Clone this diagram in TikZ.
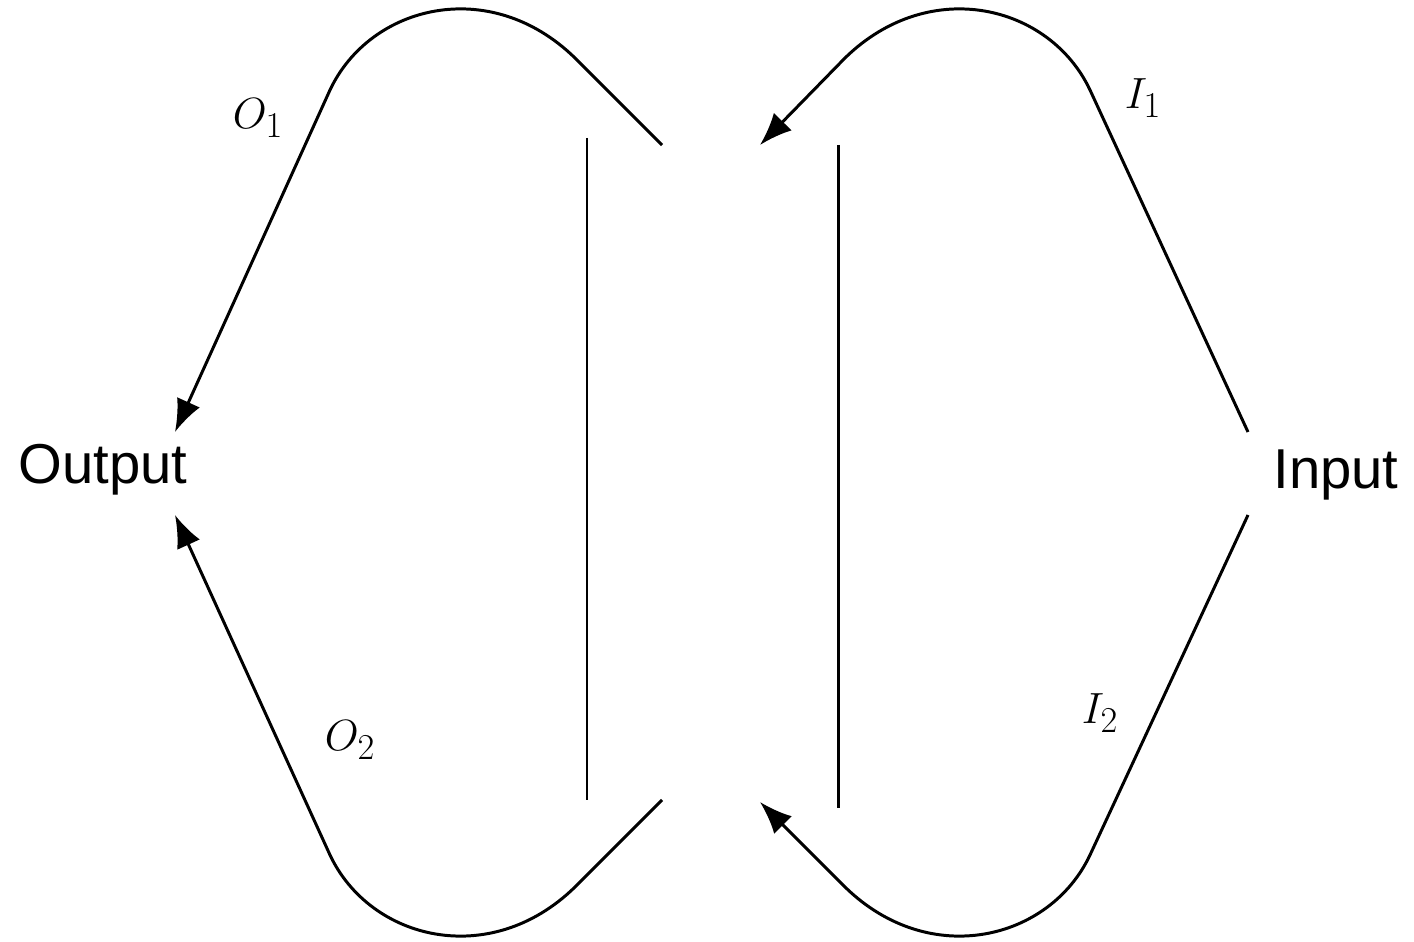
\documentclass[tikz,border=0pt]{standalone}
\usepackage{fontspec}
\setsansfont{Liberation Sans}
\usetikzlibrary{arrows.meta}
\begin{document}
\begin{tikzpicture}[x=0.02cm,y=-0.02cm,
  ln/.style={line width=1.7pt},
  arr/.style={ln,-{Latex[length=0.65cm,width=0.5cm]}},
  lbl/.style={font=\fontsize{30}{36}\selectfont},
  big/.style={font=\sffamily\fontsize{32}{38}\selectfont}]
\useasboundingbox (0,0) rectangle (1414,942);
\node[big] (out) at (103,470) {Output};
\node[big] (in) at (1336,475) {Input};
\coordinate (lt) at (662,145);
\coordinate (lb) at (662,800);
\coordinate (rt) at (760,145);
\coordinate (rb) at (760,802);
\coordinate (outt) at (175,432);
\coordinate (outb) at (175,515);
\coordinate (int) at (1248,432);
\coordinate (inb) at (1248,515);
\draw[arr] (lt) -- (575,58) .. controls (490,-25) and (370,5) .. (330,90) -- (outt);
\draw[arr] (lb) -- (575,887) .. controls (490,970) and (370,940) .. (330,855) -- (outb);
\draw[arr] (int) -- (1090,90) .. controls (1050,5) and (930,-25) .. (845,58) -- (rt);
\draw[arr] (inb) -- (1090,855) .. controls (1050,940) and (930,970) .. (845,887) -- (rb);
\coordinate (a1) at (587,138); \coordinate (a2) at (587,800);
\coordinate (b1) at (838,145); \coordinate (b2) at (838,808);
\draw[ln] (a1) -- (a2);
\draw[ln] (b1) -- (b2);
\node[lbl] (o1) at (258,118) {$O_1$};
\node[lbl] (o2) at (350,740) {$O_2$};
\node[lbl] (i1) at (1143,98) {$I_1$};
\node[lbl] (i2) at (1100,713) {$I_2$};
\end{tikzpicture}
\end{document}
